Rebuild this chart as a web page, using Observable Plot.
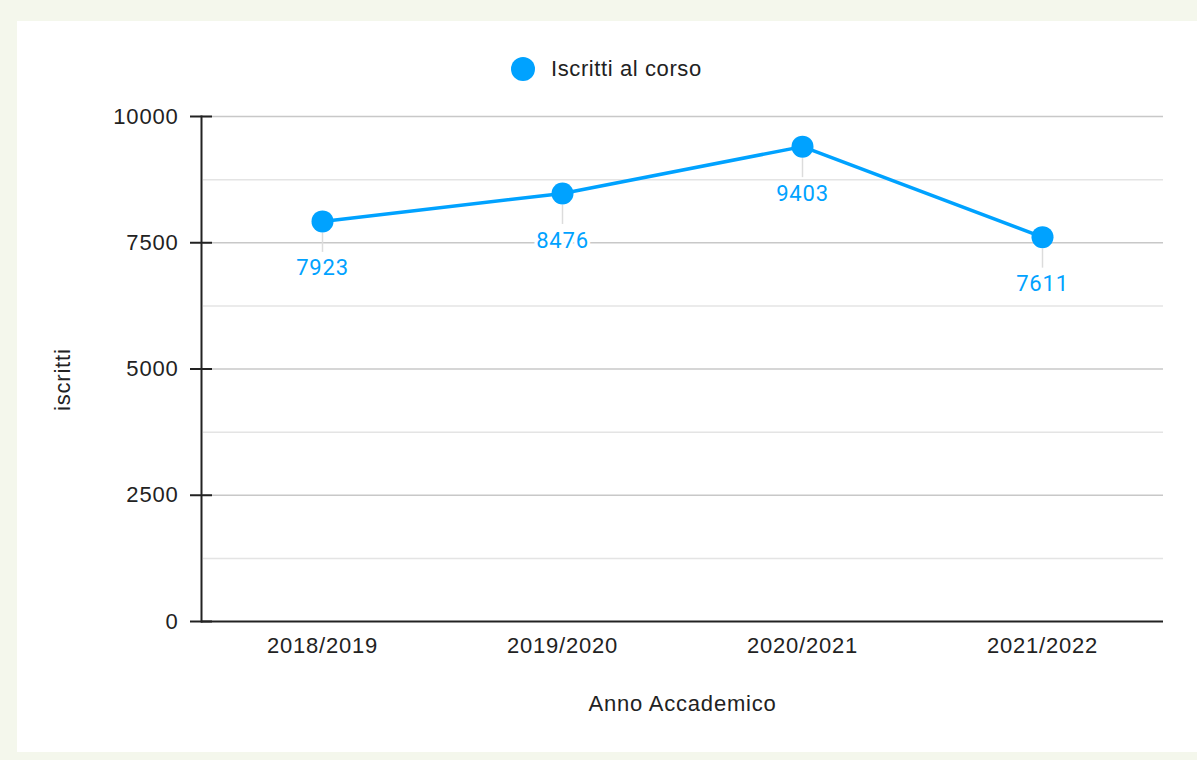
<!DOCTYPE html>
<html>
<head>
<meta charset="utf-8">
<script src="https://cdn.jsdelivr.net/npm/d3@7"></script>
<script src="https://cdn.jsdelivr.net/npm/@observablehq/plot@0.6"></script>
<style>
  html, body { margin: 0; padding: 0; }
  body { background: #f4f7ec; width: 1197px; height: 760px; overflow: hidden; position: relative;
         font-family: "Liberation Sans", Arial, sans-serif; }
  #panel { position: absolute; left: 17px; top: 21px; width: 1180px; height: 731px; background: #ffffff; }
  #legend { position: absolute; left: 494px; top: 36px; height: 24px; display: flex; align-items: center; gap: 16px;
            font-size: 22px; color: #222; letter-spacing: 0.6px; white-space: nowrap; }
  #legend .sw { width: 24px; height: 24px; border-radius: 50%; background: #00a2ff; }
  #chart { position: absolute; left: 0; top: 79px; }
  #chart svg text { letter-spacing: 0.8px; }
</style>
</head>
<body>
<div id="panel">
  <div id="legend"><span class="sw"></span><span id="legend-label"></span></div>
  <div id="chart"></div>
</div>
<script>
const years = ["2018/2019", "2019/2020", "2020/2021", "2021/2022"];
const iscritti = [7923, 8476, 9403, 7611];
const majorTicks = [0, 2500, 5000, 7500, 10000];
const minorTicks = [1250, 3750, 6250, 8750];
const seriesName = "Iscritti al corso";
const xLabel = "Anno Accademico";
const yLabel = "iscritti";

const blue = "#00a2ff";
const data = years.map((anno, i) => ({anno, iscritti: iscritti[i]}));

document.getElementById("legend-label").textContent = seriesName;

const chart = Plot.plot({
  width: 1180,
  height: 652,
  marginLeft: 184,
  marginRight: 34,
  marginTop: 16,
  marginBottom: 131,
  style: {fontFamily: "'Liberation Sans', Arial, sans-serif", fontSize: "22px", color: "#222", background: "transparent", overflow: "visible"},
  x: {type: "point", domain: years, padding: 0.5, label: null},
  y: {domain: [0, 10000], label: null},
  marks: [
    Plot.ruleY(minorTicks, {stroke: "#e4e4e4", strokeWidth: 1.5, insetLeft: 2}),
    Plot.ruleY(majorTicks.slice(1), {stroke: "#c8c8c8", strokeWidth: 1.5, insetLeft: 2}),
    Plot.axisY(majorTicks, {tickSize: 22, dx: 11, fill: "none", stroke: "#222", strokeWidth: 2, label: null}),
    Plot.axisY(majorTicks, {tickSize: 0, tickPadding: 23, label: null, fill: "#222", tickFormat: d3.format("d")}),
    Plot.axisX({tickSize: 0, tickPadding: 16, label: null, fill: "#222"}),
    Plot.ruleY([0], {stroke: "#222", strokeWidth: 2}),
    Plot.frame({anchor: "left", stroke: "#222", strokeWidth: 2}),
    Plot.ruleX(data, {x: "anno", y1: "iscritti", y2: "iscritti", insetTop: 12, insetBottom: -31, stroke: "#dcdcdc", strokeWidth: 1.5}),
    Plot.line(data, {x: "anno", y: "iscritti", stroke: blue, strokeWidth: 3.5}),
    Plot.dot(data, {x: "anno", y: "iscritti", r: 11, fill: blue}),
    Plot.text(data, {x: "anno", y: "iscritti", text: d => String(d.iscritti), dy: 47, fill: blue,
                     stroke: "white", strokeWidth: 6, paintOrder: "stroke", strokeLinejoin: "round",
                     fontFamily: "Roboto", fontSize: 22}),
    Plot.text([xLabel], {frameAnchor: "bottom", dy: 89, fill: "#222", fontSize: 22}),
    Plot.text([yLabel], {frameAnchor: "left", rotate: -90, dx: -139, dy: 42, fill: "#222", fontSize: 22})
  ]
});
document.getElementById("chart").appendChild(chart);
</script>
</body>
</html>
